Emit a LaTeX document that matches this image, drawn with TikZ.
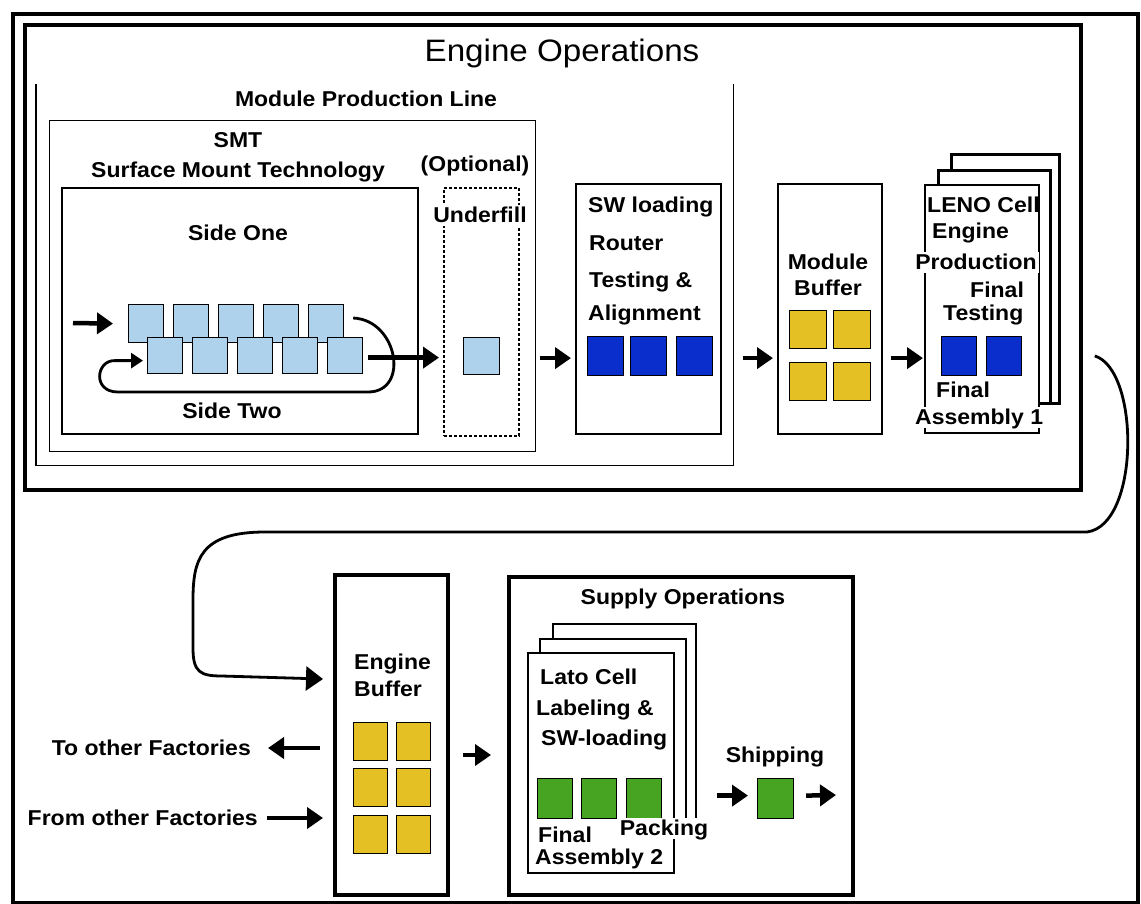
\documentclass[tikz,border=0pt]{standalone}
\usepackage{fontspec}
\setmainfont{Liberation Sans}[FakeStretch=1.07]
\usetikzlibrary{arrows.meta, calc, positioning}
\definecolor{chipltblue}{RGB}{174,210,236}
\definecolor{chipblue}{RGB}{10,46,204}
\definecolor{chipyellow}{RGB}{228,192,36}
\definecolor{chipgreen}{RGB}{70,164,34}
\tikzset{
  frm/.style={draw, line width=4pt, inner sep=0pt, anchor=north west},
  box/.style={draw, line width=1.8pt, inner sep=0pt, anchor=north west},
  pg/.style={box, fill=white},
  chip/.style={draw, line width=1.2pt, inner sep=0pt, anchor=north west},
  lbl/.style={font=\fontsize{21.5}{24}\selectfont\bfseries, inner sep=0pt,
    text height=16pt, text depth=1pt},
  lblW/.style={lbl, fill=white, inner xsep=2pt, inner ysep=2pt},
  arr/.style={-{Triangle[length=16pt,width=21pt]}, line width=4.5pt},
  arrC/.style={-{Triangle[length=17pt,width=24pt]}, line width=2.8pt},
  arrL/.style={-{Triangle[length=12pt,width=15pt]}, line width=2.8pt},
}

\begin{document}
\begin{tikzpicture}[x=1pt, y=-1pt]
  \useasboundingbox (0,0) rectangle (1141,903);

  \node[frm, minimum width=1125.5, minimum height=889] (outer) at (10.5,11.5) {};
  \node[frm, minimum width=1056, minimum height=465.5] (engops) at (22.5,22.5) {};
  \node[font=\fontsize{31}{34}\selectfont, inner sep=0pt, text height=24pt, text depth=2pt]
       (engt) at (562,50) {Engine Operations};

  % module production line
  \node[inner sep=0pt, anchor=north west, minimum width=697, minimum height=381] (mpl) at (36,84) {};
  \draw[line width=1.8pt] (mpl.north west) |- (mpl.south east) -- (mpl.north east);
  \node[lbl] (mplt) at (366,99) {Module Production Line};

  \node[box, minimum width=486, minimum height=331] (smt) at (48.5,119.5) {};
  \node[lbl] (smtt) at (238,140) {SMT};
  \node[lbl] (smtl) at (238,170) {Surface Mount Technology};
  \node[box, minimum width=356, minimum height=246] (side) at (61,187) {};
  \node[lbl] (sone) at (238,233) {Side One};
  \node[lbl] (stwo) at (232,411) {Side Two};
  \foreach \i in {1,...,5}
    \node[chip, fill=chipltblue, minimum width=35, minimum height=38] (t\i) at (83+45*\i,304) {};
  \foreach \i in {1,...,5}
    \node[chip, fill=chipltblue, minimum width=35, minimum height=36] (b\i) at (102+45*\i,337) {};
  \coordinate (smtin) at (73,323);

  \node[box, line width=1.5pt, dash pattern=on 3pt off 2pt, minimum width=75, minimum height=248] (uf) at (443,187) {};
  \node[lbl] (opt) at (475,164) {(Optional)};
  \node[lblW] (uft) at (480,215) {Underfill};
  \node[chip, fill=chipltblue, minimum width=36, minimum height=37] (u1) at (463,337) {};

  \node[box, minimum width=145, minimum height=250] (sw) at (575,183) {};
  \node[lbl, anchor=west] (swa) at (588,205) {SW loading};
  \node[lbl, anchor=west] (swb) at (589,243) {Router};
  \node[lbl, anchor=west] (swc) at (589,280) {Testing \&};
  \node[lbl, anchor=west] (swd) at (588,313) {Alignment};
  \foreach \x [count=\i] in {587,630,676}
    \node[chip, fill=chipblue, minimum width=36, minimum height=39] (w\i) at (\x,336) {};

  % buffers and cells
  \node[box, minimum width=104, minimum height=250] (mb) at (777,183) {};
  \node[lbl] (mbt) at (828,262) {Module};
  \node[lbl] (mbb) at (828,288) {Buffer};
  \foreach \x/\y [count=\i] in {789/310, 833/310, 789/362, 833/362}
    \node[chip, fill=chipyellow, minimum width=37, minimum height=38] (y\i) at (\x,\y) {};

  \node[pg, line width=2.5pt, minimum width=108, minimum height=249] (lenoC) at (950,153) {};
  \node[pg, line width=2.5pt, minimum width=112, minimum height=233] (lenoB) at (937,169) {};
  \node[pg, minimum width=114, minimum height=248] (lenoA) at (924,184) {};
  \node[lbl, anchor=west] (lna) at (927,205) {LENO Cell};
  \node[lbl, anchor=west] (lnb) at (932,231) {Engine};
  \node[lblW] (lnc) at (976,262) {Production};
  \node[lbl, anchor=west] (lnd) at (970,290) {Final};
  \node[lbl, anchor=west] (lne) at (943,313) {Testing};
  \node[lbl, anchor=west] (lnf) at (936,390) {Final};
  \node[lblW, anchor=west] (lng) at (913,417) {Assembly 1};
  \foreach \x [count=\i] in {941,986}
    \node[chip, fill=chipblue, minimum width=35, minimum height=39] (l\i) at (\x,336) {};

  \node[frm, minimum width=113, minimum height=320] (ebuf) at (333,573) {};
  \node[lbl, anchor=west] (ebt) at (354,662) {Engine};
  \node[lbl, anchor=west] (ebb) at (354,689) {Buffer};
  \foreach \x/\y [count=\i] in {353/722, 396/722, 353/768, 396/768, 353/815, 396/815}
    \node[chip, fill=chipyellow, minimum width=34, minimum height=38] (e\i) at (\x,\y) {};
  \node[lbl, anchor=east] (tof) at (251,748) {To other Factories};
  \node[lbl, anchor=east] (fof) at (258,818) {From other Factories};

  \node[frm, minimum width=344, minimum height=318] (sup) at (507,575) {};
  \node[lbl] (supt) at (683,597) {Supply Operations};
  \node[pg, line width=1.5pt, minimum width=143, minimum height=199] (latoC) at (552,623) {};
  \node[pg, line width=1.5pt, minimum width=146, minimum height=184] (latoB) at (539,638) {};
  \node[pg, line width=1.5pt, minimum width=146, minimum height=220] (latoA) at (527,652) {};
  \node[lbl, anchor=west] (lta) at (540,677) {Lato Cell};
  \node[lbl, anchor=west] (ltb) at (536,708) {Labeling \&};
  \node[lbl, anchor=west] (ltc) at (541,738) {SW-loading};
  \foreach \x [count=\i] in {537,581,626}
    \node[chip, fill=chipgreen, minimum width=35, minimum height=40] (g\i) at (\x,778) {};
  \node[lblW] (pack) at (664,828) {Packing};
  \node[lbl, anchor=west] (ltd) at (538,835) {Final};
  \node[lbl, anchor=west] (lte) at (535,857) {Assembly 2};
  \node[lbl] (ship) at (775,755) {Shipping};
  \node[chip, fill=chipgreen, minimum width=36, minimum height=40] (g4) at (757,778) {};
  \coordinate (shipout) at (836,795);

  \draw[arr] (smtin) -- ([xshift=-15pt]t1.west);
  \draw[arrL] ($(t5.north east)+(9,14)$) .. controls (398,320) and (410,392) .. (368,392)
              -- (118,392) .. controls (92,392) and (96,360) .. ($(b1.west)+(-32,5)$)
              -- ($(b1.west)+(-4,5)$);
  \draw[arr] ($(b5.east)+(5,2)$) -- ($(b5.east -| uf.west)+(-4,2)$);
  \draw[arr] ($(uf.east |- u1)+(20,2)$) -- ($(sw.west |- u1)+(-4,2)$);
  \draw[arr] ($(sw.east |- w1)+(21,2)$) -- ($(mb.west |- w1)+(-4,2)$);
  \draw[arr] ($(mb.east |- w1)+(8,2)$) -- ($(lenoA.west |- w1)+(-1,2)$);
  \draw[arrC] ($(lenoA.east)+(55,47)$) .. controls (1140,370) and (1140,525) .. (1087,532)
              -- (265,532) .. controls (200,532) and (193,560) .. (193,600)
              -- (193,648) .. controls (193,672) and (200,676) .. (222,676)
              -- ($(ebuf.west)+(-10,-56)$);
  \draw[arr] ($(ebuf.west |- tof)+(-13,0)$) -- ($(tof.east)+(17,0)$);
  \draw[arr] ($(fof.east)+(9,0)$) -- ($(ebuf.west |- fof)+(-10,0)$);
  \draw[arr] ($(ebuf.east)+(13,20)$) -- ($(sup.west |- ebuf.east)+(-16,20)$);
  \draw[arr] ($(latoA.east |- g4)+(42,-3)$) -- ($(g4.west)+(-9,-3)$);
  \draw[arr] ($(g4.east)+(12,-3)$) -- (shipout);
\end{tikzpicture}
\end{document}
